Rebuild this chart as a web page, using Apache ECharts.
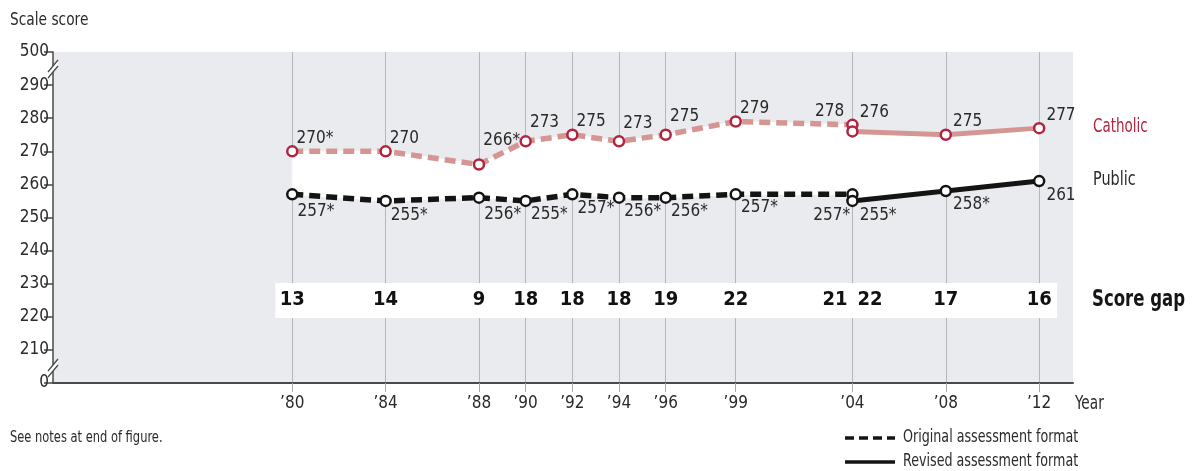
<!DOCTYPE html>
<html>
<head>
<meta charset="utf-8">
<script src="https://cdn.jsdelivr.net/npm/echarts@6.0.0/dist/echarts.min.js"></script>
<style>
  html, body { margin: 0; padding: 0; background: #fff; }
  #chart { width: 1202px; height: 471px; }
</style>
</head>
<body>
<div id="chart"></div>
<script>
// data
var origYears = [1980, 1984, 1988, 1990, 1992, 1994, 1996, 1999, 2004];
var catholicOriginal = [270, 270, 266, 273, 275, 273, 275, 279, 278];
var publicOriginal = [257, 255, 256, 255, 257, 256, 256, 257, 257];
var catholicOrigSig = [1, 0, 1, 0, 0, 0, 0, 0, 0];
var publicOrigSig = [1, 1, 1, 1, 1, 1, 1, 1, 1];

var revYears = [2004, 2008, 2012];
var catholicRevised = [276, 275, 277];
var publicRevised = [255, 258, 261];
var catholicRevSig = [0, 0, 0];
var publicRevSig = [1, 1, 0];

var gapYears = [1980, 1984, 1988, 1990, 1992, 1994, 1996, 1999, 2004, 2004, 2008, 2012];
var scoreGap = [13, 14, 9, 18, 18, 18, 19, 22, 21, 22, 17, 16];
var yearTicks = [1980, 1984, 1988, 1990, 1992, 1994, 1996, 1999, 2004, 2008, 2012];

// label layout (pixels), kept apart from the data
var cathOrigDy = [-13, -13, -24, -19, -13, -18, -18, -13, -13];
var pubOrigDy = [17, 15, 17, 14, 14, 14, 14, 13, 21];
var cathRevDy = [-19, -13, -13];
var pubRevDy = [15, 14, 14];

var FONT = '"Liberation Sans Narrow", "DejaVu Sans Condensed", sans-serif';
var CATH_LINE = '#d59693';
var CATH_MARK = '#b2233f';
var PUB = '#141414';
var TXT = '#2a2a2a';

function lab(v, sig) { return v + (sig ? '*' : ''); }

function rightLabel(dx, dy) {
  return { show: true, position: 'right', distance: 0, offset: [dx - 5, dy] };
}
function leftLabel(dx, dy) {
  return { show: true, position: 'left', distance: 0, offset: [dx + 5, dy] };
}

var catholicOrigData = origYears.map(function (yr, i) {
  var l = (yr === 2004) ? leftLabel(-7, cathOrigDy[i]) : rightLabel(3, cathOrigDy[i]);
  l.formatter = lab(catholicOriginal[i], catholicOrigSig[i]);
  return { value: [yr, catholicOriginal[i]], label: l };
});
var publicOrigData = origYears.map(function (yr, i) {
  var l = (yr === 2004) ? leftLabel(-1, pubOrigDy[i]) : rightLabel(4, pubOrigDy[i]);
  l.formatter = lab(publicOriginal[i], publicOrigSig[i]);
  return { value: [yr, publicOriginal[i]], label: l };
});
var catholicRevData = revYears.map(function (yr, i) {
  var l = rightLabel(6, cathRevDy[i]);
  l.formatter = lab(catholicRevised[i], catholicRevSig[i]);
  return { value: [yr, catholicRevised[i]], label: l };
});
var publicRevData = revYears.map(function (yr, i) {
  var l = rightLabel(6, pubRevDy[i]);
  l.formatter = lab(publicRevised[i], publicRevSig[i]);
  return { value: [yr, publicRevised[i]], label: l };
});

// white band between the two lines
var bandYears = origYears.concat(revYears);
var bandBase = publicOriginal.concat(publicRevised);
var bandTop = catholicOriginal.concat(catholicRevised);

var gapData = gapYears.map(function (yr, i) {
  var item = { value: [yr, 225], gap: scoreGap[i] };
  if (i === 8) item.label = { align: 'right', offset: [-5, 0] };
  if (i === 9) item.label = { align: 'left', offset: [5, 0] };
  return item;
});

var labelText = { fontFamily: FONT, fontSize: 17, color: TXT };

function txt(x, y, s, size, color, sx, weight) {
  return {
    type: 'text', x: x, y: y, scaleX: sx, z: 50,
    style: { text: s, x: 0, y: 0, verticalAlign: 'middle', align: 'left',
      font: (weight || 'normal') + ' ' + size + 'px ' + FONT, fill: color }
  };
}

var myChart = echarts.init(document.getElementById('chart'));

var option = {
  backgroundColor: '#fff',
  animation: false,
  textStyle: { fontFamily: FONT },
  grid: {
    left: 53, top: 52, right: 129, bottom: 88,
    show: true, backgroundColor: '#e9ebee', borderWidth: 0
  },
  xAxis: {
    type: 'value',
    min: 1969.75,
    max: 2013.45,
    axisLine: { show: true, lineStyle: { color: '#4a4a4a', width: 2 } },
    axisTick: { show: true, customValues: yearTicks, length: 9, lineStyle: { color: '#a9a9a9', width: 1 } },
    axisLabel: {
      customValues: yearTicks, margin: 12,
      fontFamily: FONT, fontSize: 17, color: TXT,
      formatter: function (v) { return '\u2019' + String(v).slice(2); }
    },
    splitLine: { show: true, lineStyle: { color: '#b4b6b9', width: 1 } }
  },
  yAxis: {
    type: 'value',
    min: 200, max: 300, interval: 10,
    axisLine: { show: true, lineStyle: { color: '#4a4a4a', width: 1.5 } },
    axisTick: { show: true, length: 9, lineStyle: { color: '#4a4a4a', width: 1.5 } },
    axisLabel: {
      margin: 4, fontFamily: FONT, fontSize: 17, color: TXT,
      formatter: function (v) { return v === 200 ? '0' : (v === 300 ? '500' : String(v)); }
    },
    splitLine: { show: false }
  },
  series: [
    {
      name: 'band', type: 'custom', z: 1, silent: true,
      encode: { x: 0, y: [1, 2] },
      data: bandYears.map(function (yr, i) { return [yr, bandTop[i], bandBase[i]]; }),
      renderItem: function (params, api) {
        var i = params.dataIndex;
        if (i >= bandYears.length - 1) return;
        var pts = [
          api.coord([bandYears[i], bandTop[i]]),
          api.coord([bandYears[i + 1], bandTop[i + 1]]),
          api.coord([bandYears[i + 1], bandBase[i + 1]]),
          api.coord([bandYears[i], bandBase[i]])
        ];
        return { type: 'polygon', shape: { points: pts }, style: { fill: '#fff', stroke: '#fff', lineWidth: 1 } };
      }
    },
    {
      name: 'Score gap', type: 'scatter', z: 2, silent: true,
      symbolSize: 1,
      itemStyle: { color: '#ffffff', opacity: 1 },
      label: {
        show: true, position: 'inside', fontFamily: FONT, fontSize: 20, fontWeight: 'bold',
        color: '#111111', textBorderWidth: 0, opacity: 1,
        formatter: function (p) { return p.data.gap; }
      },
      data: gapData,
      markArea: {
        silent: true,
        itemStyle: { color: '#ffffff' },
        data: [[{ coord: [1979.27, 230.2] }, { coord: [2012.77, 219.6] }]]
      }
    },
    {
      name: 'Catholic original', type: 'line', z: 3,
      symbol: 'circle', symbolSize: 10, showAllSymbol: true,
      lineStyle: { color: CATH_LINE, width: 5.5, type: [11, 6] },
      itemStyle: { color: '#fff', borderColor: CATH_MARK, borderWidth: 2.5 },
      label: labelText,
      data: catholicOrigData
    },
    {
      name: 'Catholic revised', type: 'line', z: 3,
      symbol: 'circle', symbolSize: 10, showAllSymbol: true,
      lineStyle: { color: CATH_LINE, width: 5 },
      itemStyle: { color: '#fff', borderColor: CATH_MARK, borderWidth: 2.5 },
      label: labelText,
      data: catholicRevData
    },
    {
      name: 'Public original', type: 'line', z: 3,
      symbol: 'circle', symbolSize: 10, showAllSymbol: true,
      lineStyle: { color: PUB, width: 5.5, type: [11, 6] },
      itemStyle: { color: '#fff', borderColor: PUB, borderWidth: 2.5 },
      label: labelText,
      data: publicOrigData
    },
    {
      name: 'Public revised', type: 'line', z: 3,
      symbol: 'circle', symbolSize: 10, showAllSymbol: true,
      lineStyle: { color: PUB, width: 5 },
      itemStyle: { color: '#fff', borderColor: PUB, borderWidth: 2.5 },
      label: labelText,
      data: publicRevData
    }
  ],
  graphic: [
    txt(10, 20, 'Scale score', 18, TXT, 0.85),
    txt(10, 438, 'See notes at end of figure.', 15, TXT, 0.85),
    txt(1075, 404, 'Year', 20, TXT, 0.76),
    txt(1093, 127, 'Catholic', 20, '#b2233f', 0.75),
    txt(1093, 180, 'Public', 20, TXT, 0.8),
    txt(1092, 300, 'Score gap', 23, '#151515', 0.8, 'bold'),
    txt(903, 438, 'Original assessment format', 17, TXT, 0.83),
    txt(903, 462, 'Revised assessment format', 17, TXT, 0.83),
    // axis breaks
    { type: 'polygon', z: 100, shape: { points: [[48, 72], [58, 60], [58, 66], [48, 78]] }, style: { fill: '#fff' } },
    { type: 'line', z: 101, shape: { x1: 48, y1: 72, x2: 58, y2: 60 }, style: { stroke: '#4a4a4a', lineWidth: 1.3 } },
    { type: 'line', z: 101, shape: { x1: 48, y1: 78, x2: 58, y2: 66 }, style: { stroke: '#4a4a4a', lineWidth: 1.3 } },
    { type: 'polygon', z: 100, shape: { points: [[48, 371], [58, 359], [58, 365], [48, 377]] }, style: { fill: '#fff' } },
    { type: 'line', z: 101, shape: { x1: 48, y1: 371, x2: 58, y2: 359 }, style: { stroke: '#4a4a4a', lineWidth: 1.3 } },
    { type: 'line', z: 101, shape: { x1: 48, y1: 377, x2: 58, y2: 365 }, style: { stroke: '#4a4a4a', lineWidth: 1.3 } },
    // format key
    { type: 'line', shape: { x1: 845, y1: 438, x2: 895, y2: 438 }, style: { stroke: '#141414', lineWidth: 3.5, lineDash: [9, 5] } },
    { type: 'line', shape: { x1: 845, y1: 462, x2: 895, y2: 462 }, style: { stroke: '#141414', lineWidth: 3.5 } }
  ]
};

myChart.setOption(option);
</script>
</body>
</html>
